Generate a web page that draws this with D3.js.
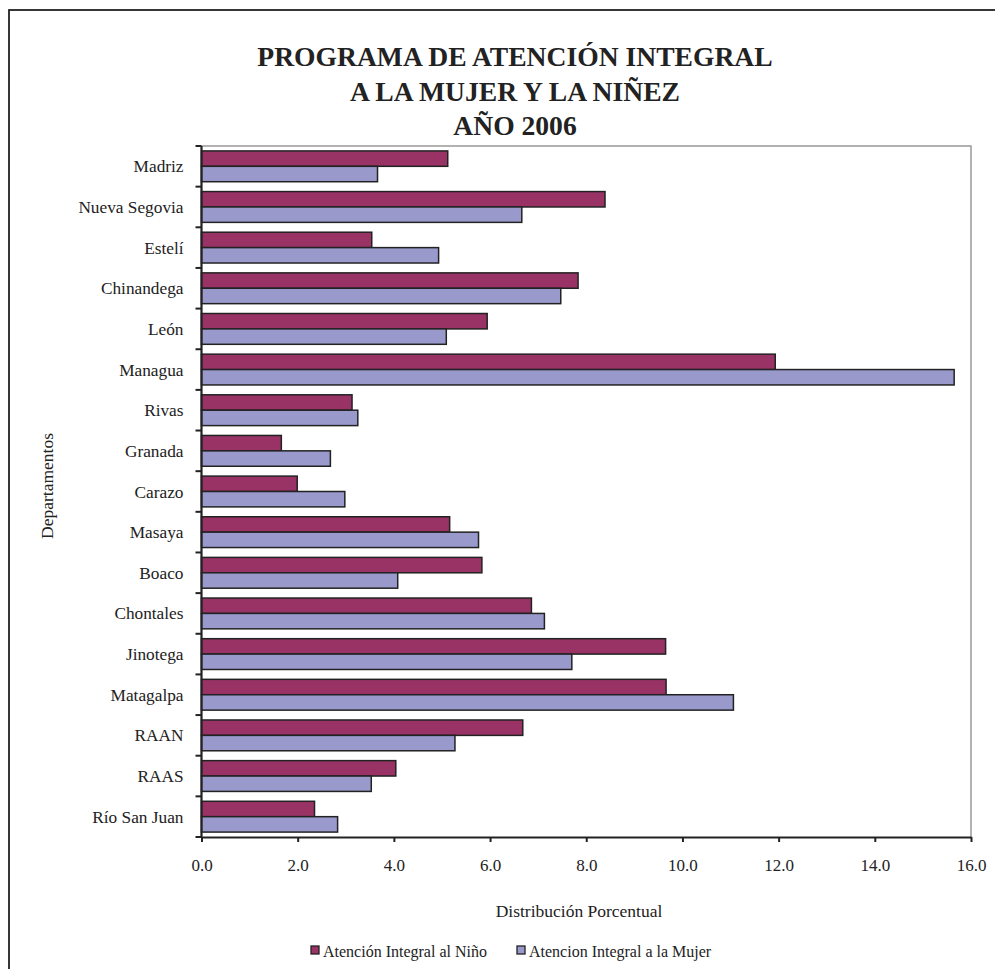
<!DOCTYPE html>
<html>
<head>
<meta charset="utf-8">
<script src="https://cdn.jsdelivr.net/npm/d3@7"></script>
<style>
  body { margin: 0; background: #fff; }
  text { font-family: "Liberation Serif", "Times New Roman", serif; fill: #222; }
</style>
</head>
<body>
<div id="chart-area"></div>
<script>
/* Programa de atención integral - barras horizontales agrupadas */

var departamentos = ["Madriz", "Nueva Segovia", "Estelí", "Chinandega", "León", "Managua",
    "Rivas", "Granada", "Carazo", "Masaya", "Boaco", "Chontales", "Jinotega",
    "Matagalpa", "RAAN", "RAAS", "Río San Juan"];
var ninoValues = [5.12, 8.39, 3.54, 7.83, 5.94, 11.93, 3.13, 1.66, 1.99, 5.16, 5.83,
    6.86, 9.65, 9.66, 6.68, 4.04, 2.35];
var mujerValues = [3.66, 6.66, 4.93, 7.47, 5.09, 15.65, 3.25, 2.68, 2.98, 5.76, 4.08,
    7.13, 7.70, 11.06, 5.27, 3.53, 2.83];
var seriesNames = ["Atención Integral al Niño", "Atencion Integral a la Mujer"];
var seriesColors = ["#993366", "#9999cc"];
var xTicks = [0, 2, 4, 6, 8, 10, 12, 14, 16];
var titleLines = ["PROGRAMA DE ATENCIÓN INTEGRAL", "A LA MUJER Y LA NIÑEZ", "AÑO 2006"];

var data = departamentos.map(function(d, i) {
    return { name: d, values: [ninoValues[i], mujerValues[i]] };
});

var margin = { left: 201.5, right: 24, top: 146, bottom: 132 };
var W = 995, H = 969;
var width = W - margin.left - margin.right;
var height = H - margin.top - margin.bottom;

var svg = d3.select("#chart-area")
    .append("svg")
    .attr("width", W)
    .attr("height", H);

// marco exterior
svg.append("rect")
    .attr("x", 9).attr("y", 10)
    .attr("width", 1000).attr("height", 1000)
    .attr("fill", "none")
    .attr("stroke", "#222")
    .attr("stroke-width", 1.8);

// titulo
svg.append("g").selectAll("text")
    .data(titleLines)
    .enter()
    .append("text")
    .attr("x", 515)
    .attr("y", function(d, i) { return 66 + i * 34.5; })
    .attr("text-anchor", "middle")
    .style("font-size", "27.6px")
    .style("font-weight", "bold")
    .text(function(d) { return d; });

var g = svg.append("g")
    .attr("transform", "translate(" + margin.left + "," + margin.top + ")");

var x = d3.scaleLinear()
    .domain([0, 16])
    .range([0, width]);

var y = d3.scaleBand()
    .domain(departamentos)
    .range([0, height]);

var y1 = d3.scaleBand()
    .domain([0, 1])
    .range([0, y.bandwidth()])
    .paddingOuter(0.32);

// borde gris del area
g.append("path")
    .attr("d", "M0,0H" + width + "V" + height)
    .attr("fill", "none")
    .attr("stroke", "#999")
    .attr("stroke-width", 1.5);

// barras
var groups = g.selectAll(".dept")
    .data(data)
    .enter()
    .append("g")
    .attr("class", "dept")
    .attr("transform", function(d) { return "translate(0," + y(d.name) + ")"; });

groups.selectAll("rect")
    .data(function(d) { return d.values; })
    .enter()
    .append("rect")
    .attr("x", 0)
    .attr("y", function(d, i) { return y1(i); })
    .attr("width", function(d) { return x(d); })
    .attr("height", y1.bandwidth())
    .attr("fill", function(d, i) { return seriesColors[i]; })
    .attr("stroke", "#222")
    .attr("stroke-width", 1.5);

// eje x
var xAxis = d3.axisBottom(x)
    .tickValues(xTicks)
    .tickFormat(d3.format(".1f"))
    .tickSizeInner(5)
    .tickSizeOuter(0)
    .tickPadding(17);

var xg = g.append("g")
    .attr("transform", "translate(0," + height + ")")
    .call(xAxis);
xg.select(".domain").attr("stroke", "#222").attr("stroke-width", 2.2);
xg.selectAll(".tick line").attr("stroke", "#222").attr("stroke-width", 2);
xg.selectAll(".tick text")
    .style("font-size", "17px")
    .style("font-family", "Liberation Serif")
    .attr("fill", "#222");

// eje y: marcas entre categorias
g.append("g").selectAll("line")
    .data(d3.range(departamentos.length + 1))
    .enter()
    .append("line")
    .attr("x1", -6).attr("x2", 0)
    .attr("y1", function(i) { return i * y.step(); })
    .attr("y2", function(i) { return i * y.step(); })
    .attr("stroke", "#222")
    .attr("stroke-width", 2);

g.append("line")
    .attr("x1", 0).attr("x2", 0)
    .attr("y1", 0).attr("y2", height)
    .attr("stroke", "#222")
    .attr("stroke-width", 2.2);

g.append("g").selectAll("text")
    .data(departamentos)
    .enter()
    .append("text")
    .attr("x", -18)
    .attr("y", function(d) { return y(d) + y.bandwidth() / 2; })
    .attr("dy", "0.35em")
    .attr("text-anchor", "end")
    .style("font-size", "17.3px")
    .text(function(d) { return d; });

// titulos de ejes
svg.append("text")
    .attr("x", 579)
    .attr("y", 917)
    .attr("text-anchor", "middle")
    .style("font-size", "17.5px")
    .text("Distribución Porcentual");

svg.append("text")
    .attr("transform", "translate(53,486) rotate(-90)")
    .attr("text-anchor", "middle")
    .style("font-size", "17.5px")
    .text("Departamentos");

// leyenda
var legendX = [311, 517];
var legend = svg.append("g").selectAll("g")
    .data(seriesNames)
    .enter()
    .append("g")
    .attr("transform", function(d, i) { return "translate(" + legendX[i] + ",946)"; });

legend.append("rect")
    .attr("width", 8)
    .attr("height", 8)
    .attr("fill", function(d, i) { return seriesColors[i]; })
    .attr("stroke", "#222")
    .attr("stroke-width", 1.3);

legend.append("text")
    .attr("x", 12)
    .attr("y", 10.5)
    .style("font-size", "16px")
    .text(function(d) { return d; });
</script>
</body>
</html>
